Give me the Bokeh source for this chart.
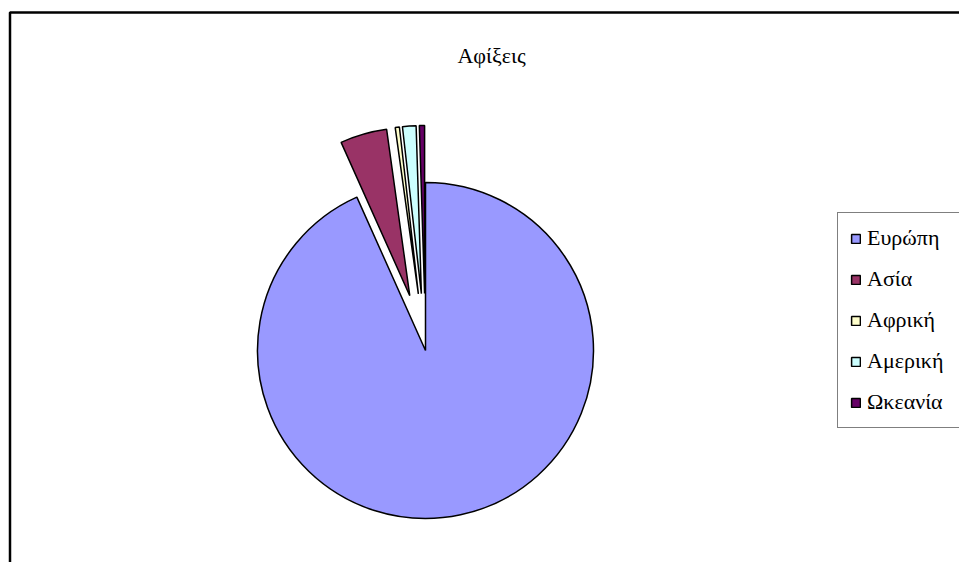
import numpy as np
from bokeh.plotting import figure
from bokeh.models import ColumnDataSource, Range1d, Label, BoxAnnotation
from bokeh.embed import file_html
from bokeh.resources import INLINE

# ---- data ----
title_text = "Αφίξεις"
regions = ["Ευρώπη", "Ασία", "Αφρική", "Αμερική", "Ωκεανία"]
shares = [93.3, 4.5, 0.4, 1.3, 0.5]

# ---- styles ----
colors = ["#9999FF", "#993366", "#FFFFCC", "#CCFFFF", "#660066"]
explode = [0, 57, 57, 57, 57]
FONT = "Liberation Serif"

W, H = 959, 562
cx, cy, R = 425, H - 350, 168

vals = np.array(shares, dtype=float)
frac = vals / vals.sum()
c1 = np.cumsum(frac)
c0 = c1 - frac
start = np.pi / 2 - 2 * np.pi * c1
end = np.pi / 2 - 2 * np.pi * c0
mid = (start + end) / 2
xs = cx + np.array(explode) * np.cos(mid)
ys = cy + np.array(explode) * np.sin(mid)

src = ColumnDataSource(dict(x=xs, y=ys, start=start, end=end,
                            region=regions, color=colors))

p = figure(width=W, height=H, x_range=Range1d(0, W), y_range=Range1d(0, H),
           output_backend="svg", toolbar_location=None, min_border=0,
           x_axis_type=None, y_axis_type=None, outline_line_color=None,
           background_fill_color="white", border_fill_color="white")
p.grid.visible = False

p.add_layout(BoxAnnotation(left=9.5, right=W + 30, top=H - 12, bottom=-30,
                           fill_alpha=0, line_color="black", line_alpha=1,
                           line_width=2.5))

p.wedge(x="x", y="y", radius=R, start_angle="start", end_angle="end",
        fill_color="color", line_color="black", line_width=1.5,
        source=src, legend_field="region")

p.add_layout(Label(x=491, y=H - 55, text=title_text, text_font=FONT,
                   text_font_size="22px", text_align="center",
                   text_baseline="alphabetic", text_color="black"))

lg = p.legend[0]
lg.location = (837, 134)
lg.margin = 0
lg.padding = 12
lg.spacing = 15
lg.label_height = 22
lg.label_width = 110
lg.glyph_width = 11
lg.glyph_height = 11
lg.label_standoff = 6
lg.label_text_font = FONT
lg.label_text_font_size = "22px"
lg.label_text_color = "black"
lg.border_line_color = "black"
lg.border_line_width = 1
lg.background_fill_color = "white"
lg.background_fill_alpha = 1

open("out.html", "w").write(file_html(p, INLINE))
